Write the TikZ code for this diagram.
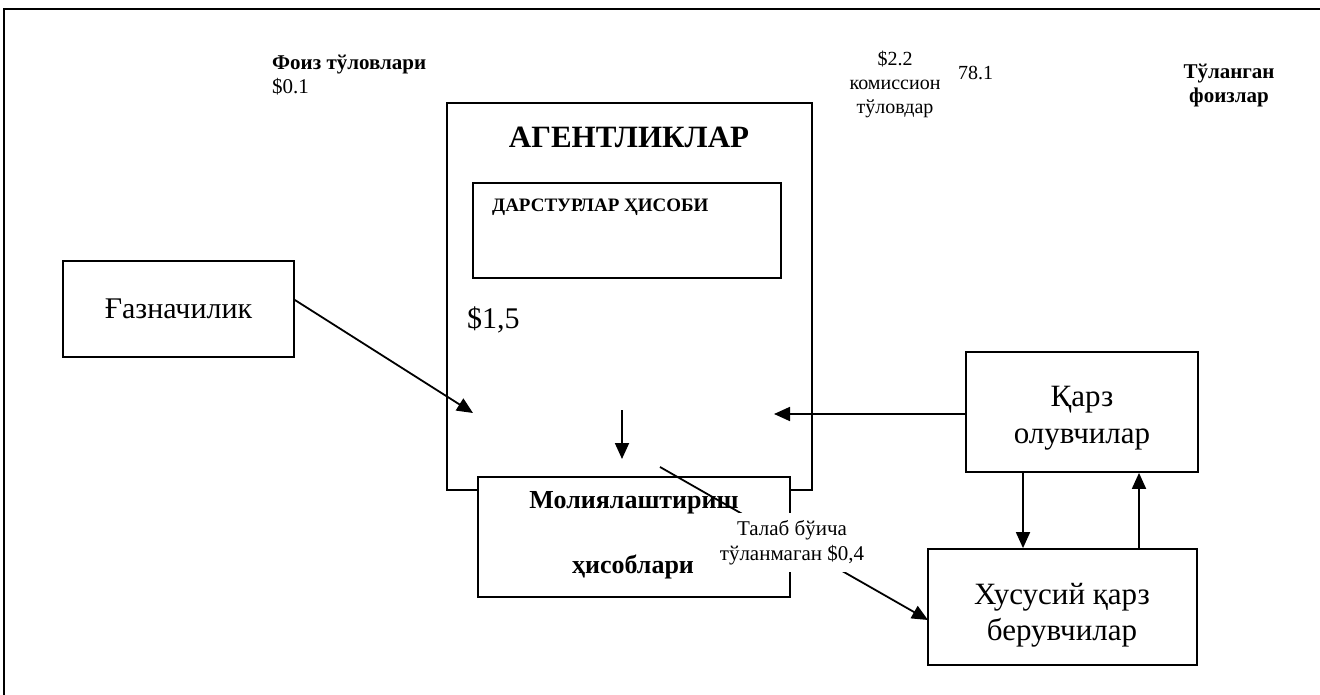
\documentclass[tikz,border=0pt]{standalone}
\usepackage{fontspec}
\setmainfont{Liberation Serif}
\usetikzlibrary{arrows.meta}
\begin{document}
\begin{tikzpicture}[x=1pt,y=-1pt,
  box/.style={draw,line width=1.8pt,fill=white,inner sep=0pt},
  arr/.style={line width=1.8pt,-{Triangle[length=16pt,width=14pt]}},
  txt/.style={inner sep=0pt,align=center}]
\useasboundingbox (0,0) rectangle (1320,695);
% frame
\coordinate (f1) at (4,697);
\coordinate (f2) at (4,9);
\coordinate (f3) at (1322,9);
\draw[line width=2.2pt] (f1) -- (f2) -- (f3);

% top texts
\node[txt,anchor=west,align=left,font=\fontsize{21}{24}\selectfont] (foiz) at (272,75) {\textbf{Фоиз тўловлари}\\\$0.1};
\node[txt,font=\fontsize{20}{24}\selectfont] (kom) at (895,84) {\$2.2\\комиссион\\тўловдар};
\node[txt,anchor=west,font=\fontsize{20}{24}\selectfont] (n781) at (958,73) {78.1};
\node[txt,font=\bfseries\fontsize{21}{24}\selectfont] (tul) at (1229,86) {Тўланган\\фоизлар};

% agencies
\node[box,minimum width=365pt,minimum height=387pt] (ag) at (629.5,296.5) {};
\node[txt,font=\bfseries\fontsize{31}{35}\selectfont] (agt) at (629,137) {АГЕНТЛИКЛАР};
\node[box,minimum width=308pt,minimum height=95pt] (dars) at (627,230.5) {};
\node[txt,anchor=west,font=\bfseries\fontsize{19}{22}\selectfont] (darst) at (492,207) {ДАРСТУРЛАР ҲИСОБИ};
\node[txt,anchor=west,font=\fontsize{30}{34}\selectfont] (s15) at (467,320) {\$1,5};

% financing accounts
\node[box,minimum width=312pt,minimum height=120pt] (mol) at (634,537) {};
\node[txt,font=\bfseries\fontsize{26}{30}\selectfont] (molt1) at (634,503) {Молиялаштириш};
\node[txt,font=\bfseries\fontsize{26}{30}\selectfont] (molt2) at (633,567) {ҳисоблари};

% treasury
\node[box,minimum width=231pt,minimum height=96pt,font=\fontsize{30}{34}\selectfont] (gaz) at (178.5,309) {Ғазначилик};

% borrowers
\node[box,minimum width=232pt,minimum height=120pt] (qarz) at (1082,412) {};
\node[txt,font=\fontsize{31}{37}\selectfont] (qarzt) at (1082,418) {Қарз\\олувчилар};

% private lenders
\node[box,minimum width=269pt,minimum height=116pt] (xus) at (1062.5,607) {};
\node[txt,font=\fontsize{31}{36}\selectfont] (xust) at (1062,615) {Хусусий қарз\\берувчилар};

% arrows
\coordinate (g1) at (473,413);
\draw[arr] ([yshift=9pt]gaz.east) -- (g1);
\coordinate (d1) at (622,410);
\coordinate (d2) at (622,459);
\draw[arr] (d1) -- (d2);
\coordinate (q1) at (774,414);
\draw[arr] (qarz.west |- q1) -- (q1);
\coordinate (k1) at (1023,0);
\coordinate (k2) at (1139,0);
\draw[arr] (qarz.south -| k1) -- (xus.north -| k1);
\draw[arr] (xus.north -| k2) -- (qarz.south -| k2);
\coordinate (t1) at (660,467);
\coordinate (t2) at (928,620);
\draw[arr] (t1) -- (t2);
\node[fill=white,inner sep=0pt,minimum width=160pt,minimum height=59pt,align=center,font=\fontsize{21}{25}\selectfont] (lbl) at (792,542.5) {Талаб бўича\\тўланмаган \$0,4};
\end{tikzpicture}
\end{document}
